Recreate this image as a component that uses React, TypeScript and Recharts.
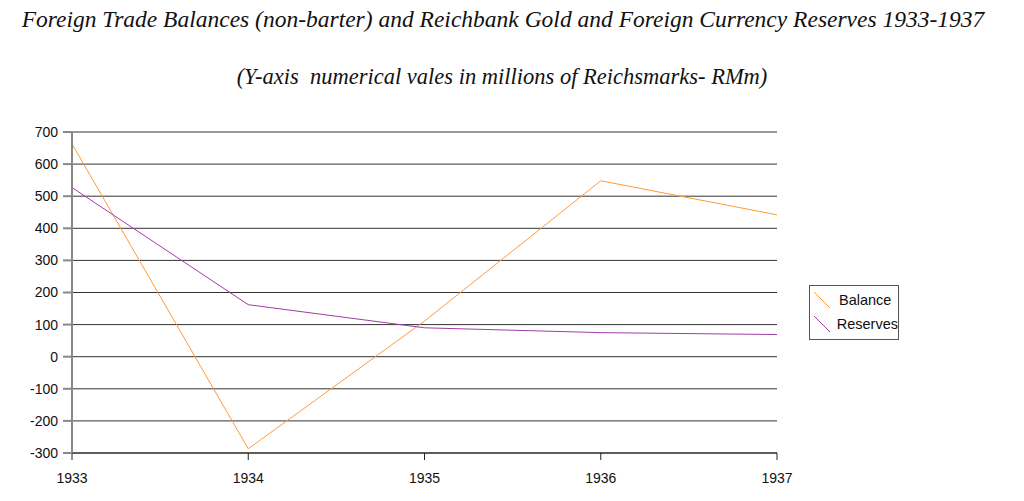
import { LineChart, Line, XAxis, YAxis, CartesianGrid } from 'recharts'

const years = [1933, 1934, 1935, 1936, 1937]
const balance = [663, -287, 111, 548, 442]
const reserves = [527, 162, 90, 75, 69]
const yTicks = [-300, -200, -100, 0, 100, 200, 300, 400, 500, 600, 700]

const ORANGE = '#ff9a3c'
const PURPLE = '#a03ca8'

const chartData = years.map((year, i) => ({
  year,
  Balance: balance[i],
  Reserves: reserves[i]
}))

const serif = '"Liberation Serif", "DejaVu Serif", serif'
const sans = '"Liberation Sans", Arial, sans-serif'

function LegendRow({ color, label }: { color: string; label: string }) {
  return (
    <div style={{ display: 'flex', alignItems: 'center', height: 24 }}>
      <svg width={20} height={20} style={{ marginLeft: 3, marginRight: 6 }}>
        <line x1={1} y1={2} x2={17} y2={18} stroke={color} strokeWidth={1} />
      </svg>
      <span style={{ fontFamily: sans, fontSize: 14.5, color: '#111' }}>{label}</span>
    </div>
  )
}

export default function App() {
  return (
    <div
      style={{
        position: 'absolute',
        left: 0,
        top: 0,
        width: 1024,
        height: 501,
        background: '#fff',
        overflow: 'hidden'
      }}>
      <div
        style={{
          position: 'absolute',
          top: 6,
          left: 0,
          width: 1006,
          textAlign: 'center',
          fontFamily: serif,
          fontStyle: 'italic',
          fontSize: 23.5,
          color: '#111',
          whiteSpace: 'nowrap'
        }}>
        Foreign Trade Balances (non-barter) and Reichbank Gold and Foreign Currency Reserves 1933-1937
      </div>
      <div
        style={{
          position: 'absolute',
          top: 64,
          left: 0,
          width: 1004,
          textAlign: 'center',
          fontFamily: serif,
          fontStyle: 'italic',
          fontSize: 22.5,
          color: '#111',
          whiteSpace: 'pre'
        }}>
        {'(Y-axis  numerical vales in millions of Reichsmarks- RMm)'}
      </div>

      <div style={{ position: 'absolute', left: 0, top: 0 }}>
        <LineChart
          width={1024}
          height={501}
          data={chartData}
          margin={{ top: 132, left: 0, right: 247, bottom: 0 }}>
          <CartesianGrid horizontal vertical={false} stroke="#333" />
          <XAxis
            dataKey="year"
            type="number"
            domain={[1933, 1937]}
            ticks={years}
            height={48}
            tickSize={7}
            tickMargin={13}
            stroke="#222"
            tick={{ fill: '#111', fontSize: 14, fontFamily: sans }}
          />
          <YAxis
            type="number"
            domain={[-300, 700]}
            ticks={yTicks}
            width={72}
            tickSize={9}
            tickMargin={5}
            stroke="#888"
            strokeWidth={2}
            tick={{ fill: '#111', fontSize: 14, fontFamily: sans }}
            interval={0}
          />
          <Line
            type="linear"
            dataKey="Balance"
            stroke={ORANGE}
            strokeWidth={1}
            dot={false}
            isAnimationActive={false}
          />
          <Line
            type="linear"
            dataKey="Reserves"
            stroke={PURPLE}
            strokeWidth={1}
            dot={false}
            isAnimationActive={false}
          />
        </LineChart>
      </div>

      <div
        style={{
          position: 'absolute',
          left: 809,
          top: 285,
          width: 88,
          height: 51,
          border: '1px solid #555',
          paddingTop: 2,
          boxSizing: 'content-box'
        }}>
        <LegendRow color={ORANGE} label="Balance" />
        <LegendRow color={PURPLE} label="Reserves" />
      </div>
    </div>
  )
}
